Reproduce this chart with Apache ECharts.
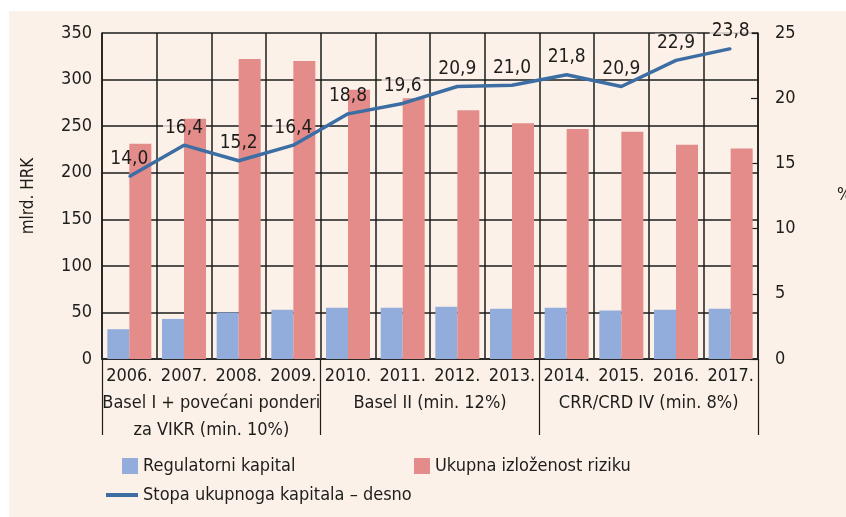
<!DOCTYPE html>
<html>
<head>
<meta charset="utf-8">
<script src="https://cdn.jsdelivr.net/npm/echarts@6/dist/echarts.min.js"></script>
<style>
html,body{margin:0;padding:0;background:#fff;}
#c{width:846px;height:517px;}
</style>
</head>
<body>
<div id="c"></div>
<script>
var years = ['2006.', '2007.', '2008.', '2009.', '2010.', '2011.', '2012.', '2013.', '2014.', '2015.', '2016.', '2017.'];
var groups = ['Basel I + povećani ponderi\nza VIKR (min. 10%)', 'Basel II (min. 12%)', 'CRR/CRD IV (min. 8%)'];
var regulatorniKapital = [32, 43, 50, 53, 55, 55, 56, 54, 55, 52, 53, 54];
var ukupnaIzlozenost = [231, 258, 322, 320, 289, 280, 267, 253, 247, 244, 230, 226];
var stopaKapitala = [14.0, 16.4, 15.2, 16.4, 18.8, 19.6, 20.9, 21.0, 21.8, 20.9, 22.9, 23.8];
var leftTicks = {min: 0, max: 350, interval: 50};
var rightTicks = {min: 0, max: 25, interval: 5};

var FONT = '"Liberation Sans Narrow", "DejaVu Sans Condensed", "Liberation Sans", sans-serif';
var BEIGE = '#FCF1E9';
var INK = '#1d1d1b';
var LINE = '#3D6EA3';

function fmt(p) { return p.value.toFixed(1).replace('.', ','); }
var labelBase = {
  show: true, position: 'top', distance: 7,
  fontFamily: FONT, fontSize: 19, padding: [0, 2],
  formatter: fmt
};

var chart = echarts.init(document.getElementById('c'));
chart.setOption({
  animation: false,
  textStyle: {fontFamily: FONT, color: INK},
  graphic: [{
    type: 'rect', z: -10, silent: true,
    shape: {x: 9, y: 11, width: 846, height: 517},
    style: {fill: BEIGE}
  }],
  grid: {left: 102, right: 88, top: 33, bottom: 158, containLabel: false, outerBoundsMode: 'none'},
  legend: [
    {data: ['Regulatorni kapital'], left: 122, top: 457, padding: 0, itemWidth: 16, itemHeight: 16, icon: 'rect',
     textStyle: {fontFamily: FONT, fontSize: 18, color: INK}},
    {data: ['Ukupna izloženost riziku'], left: 414, top: 457, padding: 0, itemWidth: 16, itemHeight: 16, icon: 'rect',
     textStyle: {fontFamily: FONT, fontSize: 18, color: INK}},
    {data: ['Stopa ukupnoga kapitala – desno'], left: 106, top: 486, padding: 0, itemWidth: 32, itemHeight: 4, icon: 'rect',
     itemStyle: {color: LINE, opacity: 1},
     textStyle: {fontFamily: FONT, fontSize: 18, color: INK}}
  ],
  xAxis: [{
    type: 'category', data: years, position: 'bottom',
    axisLine: {show: true, lineStyle: {color: '#2b2b2b', width: 2}},
    axisTick: {show: false},
    axisLabel: {fontFamily: FONT, fontSize: 18, color: INK, margin: 8, interval: 0},
    splitLine: {show: true, lineStyle: {color: INK, width: 1.5}}
  }, {
    type: 'category', data: groups, position: 'bottom',
    axisLine: {show: false},
    axisTick: {show: true, length: 76, lineStyle: {color: INK, width: 1.2}},
    axisLabel: {fontFamily: FONT, fontSize: 18, color: INK, margin: 31, lineHeight: 27, interval: 0},
    splitLine: {show: false}
  }],
  yAxis: [{
    type: 'value', min: leftTicks.min, max: leftTicks.max, interval: leftTicks.interval,
    name: 'mlrd. HRK', nameLocation: 'middle', nameGap: 65, nameRotate: 90,
    nameTextStyle: {fontFamily: FONT, fontSize: 17, color: INK},
    axisLine: {show: true, lineStyle: {color: INK, width: 1.5}},
    axisTick: {show: false},
    axisLabel: {fontFamily: FONT, fontSize: 18, color: INK, margin: 10},
    splitLine: {show: true, lineStyle: {color: INK, width: 1.5}}
  }, {
    type: 'value', position: 'right', min: rightTicks.min, max: rightTicks.max, interval: rightTicks.interval,
    name: '%', nameLocation: 'middle', nameGap: 79, nameRotate: 0,
    nameTextStyle: {fontFamily: FONT, fontSize: 17, color: INK},
    axisLine: {show: true, lineStyle: {color: INK, width: 1.5}},
    axisTick: {show: true, inside: true, length: 7, lineStyle: {color: INK, width: 1.2}},
    axisLabel: {fontFamily: FONT, fontSize: 18, color: INK, margin: 17},
    splitLine: {show: false}
  }],
  series: [{
    // label backgrounds: above grid lines, below bars
    name: 'labelBg', type: 'scatter', yAxisIndex: 1, data: stopaKapitala,
    symbol: 'circle', symbolSize: 2, z: 1, silent: true,
    itemStyle: {color: 'rgba(0,0,0,0)'},
    labelLayout: {hideOverlap: false},
    label: Object.assign({}, labelBase, {color: 'rgba(0,0,0,0)', backgroundColor: BEIGE})
  }, {
    name: 'Regulatorni kapital', type: 'bar', data: regulatorniKapital,
    barWidth: 22, barGap: '0%', itemStyle: {color: '#92ACDC'}
  }, {
    name: 'Ukupna izloženost riziku', type: 'bar', data: ukupnaIzlozenost,
    barWidth: 22, barGap: '0%', itemStyle: {color: '#E38C8A'}
  }, {
    name: 'Stopa ukupnoga kapitala – desno', type: 'line', yAxisIndex: 1, data: stopaKapitala,
    symbol: 'circle', symbolSize: 2, showSymbol: true, z: 5,
    lineStyle: {color: LINE, width: 3.5},
    itemStyle: {color: LINE},
    labelLayout: {hideOverlap: false},
    label: Object.assign({}, labelBase, {color: INK})
  }]
});
</script>
</body>
</html>
